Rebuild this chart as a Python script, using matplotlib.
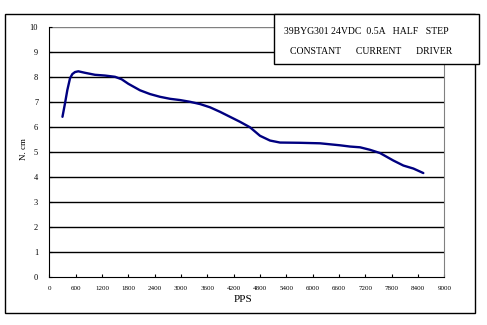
import matplotlib.pyplot as plt
from matplotlib.patches import Rectangle

# torque curve, 39BYG301 @ 24VDC 0.5A half step
pps = [300, 358, 411, 472, 525, 586, 661, 813, 1041, 1269, 1497, 1649, 1801,
       2067, 2294, 2522, 2750, 2978, 3206, 3434, 3662, 3889, 4117, 4345,
       4573, 4801, 5029, 5257, 5712, 6168, 6624, 6852, 7080, 7307, 7535,
       7840, 8068, 8296, 8522]
torque = [6.42, 6.96, 7.49, 7.96, 8.13, 8.21, 8.24, 8.18, 8.10, 8.07, 8.02, 7.92, 7.74,
          7.48, 7.33, 7.22, 7.14, 7.09, 7.02, 6.93, 6.80, 6.62, 6.42, 6.22,
          6.00, 5.66, 5.47, 5.39, 5.38, 5.36, 5.28, 5.23, 5.20, 5.10, 4.97,
          4.67, 4.47, 4.35, 4.17]

xticks = list(range(0, 9001, 600))
yticks = list(range(0, 11))

plt.rcParams['font.family'] = ['Liberation Serif', 'DejaVu Serif']

fig = plt.figure(figsize=(4.87, 3.25), dpi=100)
W, H = 487, 325

# outer frame around the whole chart
fig.patches.append(Rectangle((5 / W, 1 - 312.5 / H), 470 / W, 298.5 / H,
                             transform=fig.transFigure, fill=False,
                             edgecolor='black', lw=1.0))

ax = fig.add_axes([49.3 / W, 1 - 277.3 / H, 395 / W, 250 / H])
ax.plot(pps, torque, color='#000080', lw=1.7, solid_joinstyle='round',
        solid_capstyle='round', zorder=3)

ax.set_xlim(0, 9000)
ax.set_ylim(0, 10)
ax.set_xticks(xticks)
ax.set_xticklabels([str(t) for t in xticks], fontsize=5)
ax.set_yticks(yticks)
ax.set_yticklabels([str(t) for t in yticks], fontsize=6)
ax.tick_params(axis='x', direction='in', length=2, width=0.8, pad=6)
ax.tick_params(axis='y', direction='in', length=2, width=0.8, pad=8)

for y in yticks[1:]:
    ax.axhline(y, color='black' if y < 10 else '#808080', lw=1.0, zorder=1)

ax.spines['top'].set_visible(False)
ax.spines['right'].set_color('#808080')
ax.spines['left'].set_color('black')
ax.spines['bottom'].set_color('black')

fig.text(23.5 / W, 1 - 149 / H, 'N. cm', rotation=90, fontsize=6.5,
         ha='center', va='center')
fig.text(243 / W, 1 - 300 / H, 'PPS', fontsize=8, ha='center', va='center')

# title box in the upper right corner
fig.patches.append(Rectangle((274.3 / W, 1 - 64 / H), 205 / W, 50 / H,
                             transform=fig.transFigure, facecolor='white',
                             edgecolor='black', lw=1.0, zorder=5))
fig.text(366.5 / W, 1 - 31 / H, '39BYG301 24VDC  0.5A   HALF   STEP',
         fontsize=7, ha='center', va='center', zorder=6)
fig.text(371.5 / W, 1 - 51 / H, 'CONSTANT      CURRENT      DRIVER',
         fontsize=7, ha='center', va='center', zorder=6)

fig.savefig('out.png', dpi=100)
